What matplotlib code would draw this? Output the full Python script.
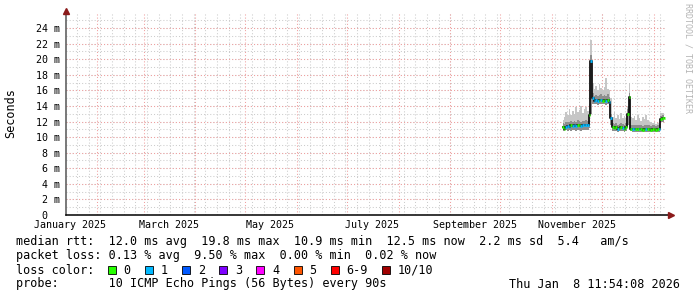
import pandas as pd
import matplotlib
matplotlib.use('Agg')
import matplotlib.pyplot as plt
import matplotlib.dates as mdates
from matplotlib.patches import Rectangle

# ======================
# Data (median rtt and smoke in ms, one value per day)
# ======================
days = pd.date_range('2025-11-07', '2026-01-07', freq='D')

median = [11.3, 11.1, 11.3, 11.4, 11.3, 11.5, 11.4, 11.5, 11.4, 11.6, 11.5, 11.4,
          11.5, 11.5, 11.6, 11.5, 12.8, 19.8, 15.0, 14.6, 14.7, 14.6, 14.7, 14.8,
          14.6, 14.7, 14.6, 14.8, 14.5, 12.4, 11.3, 11.2, 11.3, 11.1, 11.2, 11.3,
          11.2, 11.1, 11.3, 13.0, 15.2, 11.1, 11.0, 11.1, 11.0, 11.0, 11.1, 11.0,
          10.9, 11.0, 11.1, 11.0, 11.0, 10.9, 11.0, 11.0, 10.9, 11.0, 11.0, 12.3,
          12.5, 12.5]

smoke_lo = [10.8, 10.8, 10.9, 10.8, 10.9, 10.8, 10.9, 10.9, 10.8, 10.9, 10.9, 10.8,
            10.9, 10.9, 10.9, 10.9, 11.2, 13.0, 14.2, 14.2, 14.2, 14.1, 14.2, 14.2,
            14.2, 14.2, 14.1, 14.2, 14.1, 11.5, 10.8, 10.8, 10.8, 10.7, 10.8, 10.8,
            10.8, 10.7, 10.8, 11.5, 13.5, 10.8, 10.7, 10.7, 10.7, 10.7, 10.7, 10.7,
            10.6, 10.7, 10.7, 10.7, 10.7, 10.6, 10.7, 10.7, 10.6, 10.7, 10.7, 12.0,
            12.0, 12.0]

smoke_dark = [11.8, 11.7, 11.9, 12.0, 11.9, 12.1, 12.0, 12.1, 12.0, 12.2, 12.1, 12.0,
              12.1, 12.1, 12.2, 12.1, 13.4, 20.5, 15.6, 15.3, 15.4, 15.3, 15.4, 15.5,
              15.3, 15.4, 15.3, 15.5, 15.2, 13.0, 11.8, 11.7, 11.8, 11.6, 11.7, 11.8,
              11.7, 11.6, 11.8, 13.6, 15.7, 11.6, 11.5, 11.6, 11.5, 11.5, 11.6, 11.5,
              11.4, 11.5, 11.6, 11.5, 11.5, 11.4, 11.5, 11.5, 11.4, 11.5, 11.5, 12.7,
              12.8, 12.8]

smoke_hi = [12.2, 12.6, 13.2, 12.8, 13.6, 12.9, 13.4, 13.0, 13.8, 13.2, 13.5, 14.0,
            13.1, 13.6, 13.9, 13.4, 14.3, 22.5, 17.0, 16.2, 16.5, 16.1, 16.8, 16.3,
            16.0, 16.4, 17.6, 16.2, 16.0, 15.0, 12.6, 13.2, 12.4, 12.9, 12.3, 13.1,
            12.5, 12.7, 12.4, 14.0, 17.0, 12.6, 12.5, 12.7, 12.2, 12.9, 12.4, 12.1,
            12.6, 12.3, 12.8, 12.2, 12.0, 11.9, 11.8, 11.9, 11.7, 11.8, 11.7, 13.1,
            13.1, 13.0]

# lost pings per sample (0 -> green, 1 -> light blue)
loss = [0, 0, 1, 1, 1, 0, 1, 1, 1, 0, 0, 1, 1, 1, 1, 1, 0, 1, 1, 1, 1, 1, 0, 1,
        0, 0, 1, 0, 1, 1, 0, 0, 0, 1, 0, 0, 1, 0, 0, 0, 0, 0, 1, 1, 0, 0, 1, 0,
        0, 0, 1, 0, 0, 0, 0, 0, 0, 0, 1, 0, 0, 0]

loss_colors = ['#26ff00', '#00b8ff', '#0059ff', '#7e00ff', '#ff00ff', '#ff5500', '#ff0000', '#a10000']
loss_labels = ['0', '1', '2', '3', '4', '5', '6-9', '10/10']

y_ticks = [0, 2, 4, 6, 8, 10, 12, 14, 16, 18, 20, 22, 24]
y_labels = [' 0  ', ' 2 m', ' 4 m', ' 6 m', ' 8 m', '10 m', '12 m', '14 m', '16 m',
            '18 m', '20 m', '22 m', '24 m']
x_label_dates = ['2025-01-16', '2025-03-16', '2025-05-16', '2025-07-16', '2025-09-16', '2025-11-16']
x_labels = ['January 2025', 'March 2025', 'May 2025', 'July 2025', 'September 2025', 'November 2025']

stats_lines = [
    'median rtt:  12.0 ms avg  19.8 ms max  10.9 ms min  12.5 ms now  2.2 ms sd  5.4   am/s',
    'packet loss: 0.13 % avg  9.50 % max  0.00 % min  0.02 % now',
]
probe_line = 'probe:       10 ICMP Echo Pings (56 Bytes) every 90s'
stamp = 'Thu Jan  8 11:54:08 2026'

# ======================
# Figure
# ======================
W, H = 697, 297
MONO = 'DejaVu Sans Mono'
LEG_FS = 8.5
fig = plt.figure(figsize=(W / 100, H / 100), dpi=100)

def fx(x):
    return x / W

def fy(y):
    return 1 - y / H

ax = fig.add_axes([fx(66), fy(215), 600 / W, 202 / H])
start = pd.Timestamp('2025-01-13 11:54:08')
end = pd.Timestamp('2026-01-08 11:54:08')
ax.set_xlim(start, end)
ax.set_ylim(0, 25.93)
for s in ax.spines.values():
    s.set_visible(False)

# grid: minor (weeks / 1 ms) grey, major (months / 2 ms) red
dot = (0, (1, 2))
for d in pd.date_range('2025-01-20', '2026-01-05', freq='W-MON'):
    ax.axvline(d, color='#cccccc', lw=0.75, ls=dot, zorder=0)
for v in range(1, 26):
    ax.axhline(v, color='#cccccc', lw=0.75, ls=dot, zorder=0)
for d in pd.date_range('2025-02-01', '2026-01-01', freq='MS'):
    ax.axvline(d, color='#f0a0a0', lw=0.75, ls=dot, zorder=0.5)
for v in y_ticks[1:]:
    ax.axhline(v, color='#f0a0a0', lw=0.75, ls=dot, zorder=0.5)

# smoke + median
x = days + pd.Timedelta(hours=12)
ax.fill_between(x, smoke_lo, smoke_hi, step='mid', color='#c6c6c6', lw=0, zorder=1)
ax.fill_between(x, smoke_lo, smoke_dark, step='mid', color='#8e8e8e', lw=0, zorder=1.5)
ax.plot(x, median, drawstyle='steps-mid', color='#111111', lw=1.3, zorder=2)
xn = mdates.date2num(x)
ax.hlines(median, xn - 0.5, xn + 0.5, colors=[loss_colors[l] for l in loss], lw=2.0, zorder=3)

# ticks
ax.set_yticks(y_ticks)
ax.set_yticklabels(y_labels, fontfamily=MONO, fontsize=7.2)
ax.set_xticks(pd.to_datetime(x_label_dates))
ax.set_xticklabels(x_labels, fontfamily=MONO, fontsize=7.2)
ax.tick_params(axis='both', length=0)
ax.tick_params(axis='y', pad=4.3)
ax.tick_params(axis='x', pad=3.5)

# axis lines with arrows
ax.plot([0, 0], [0, 1.012], transform=ax.transAxes, clip_on=False, color='#555555', lw=1.1, zorder=5)
ax.plot([0, 1.0075], [0, 0], transform=ax.transAxes, clip_on=False, color='black', lw=1.1, zorder=5)
ax.plot([0], [1.012], transform=ax.transAxes, clip_on=False, marker='^', ms=4, color='#8b1a1a', zorder=6)
ax.plot([1.0075], [0], transform=ax.transAxes, clip_on=False, marker='>', ms=4, color='#8b1a1a', zorder=6)

# labels
fig.text(fx(11), fy(113), 'Seconds', rotation=90, ha='center', va='center', fontfamily=MONO, fontsize=LEG_FS)
fig.text(fx(688), fy(58), 'RRDTOOL / TOBI OETIKER', rotation=270, ha='center', va='center',
         fontfamily=MONO, fontsize=6.0, color='#b4b4b4')

# legend
base = [245.5, 259.5, 273.5, 287.5]
for i, line in enumerate(stats_lines):
    fig.text(fx(16), fy(base[i]), line, fontfamily=MONO, fontsize=LEG_FS, va='baseline')
fig.text(fx(16), fy(base[2]), 'loss color:', fontfamily=MONO, fontsize=LEG_FS, va='baseline')
bx = 108
cw = 7.1
for col, lab in zip(loss_colors, loss_labels):
    fig.patches.append(Rectangle((fx(bx), fy(273.5)), 8 / W, 8 / H, transform=fig.transFigure,
                                 facecolor=col, edgecolor='black', lw=0.6))
    fig.text(fx(bx + 15.5), fy(base[2]), lab, fontfamily=MONO, fontsize=LEG_FS, va='baseline')
    bx = bx + 15.5 + len(lab) * cw + 14.5
fig.text(fx(16), fy(base[3]), probe_line, fontfamily=MONO, fontsize=LEG_FS, va='baseline')
fig.text(fx(680), fy(base[3]), stamp, fontfamily=MONO, fontsize=LEG_FS, va='baseline', ha='right')

fig.savefig('out.png', dpi=100, facecolor='white')
